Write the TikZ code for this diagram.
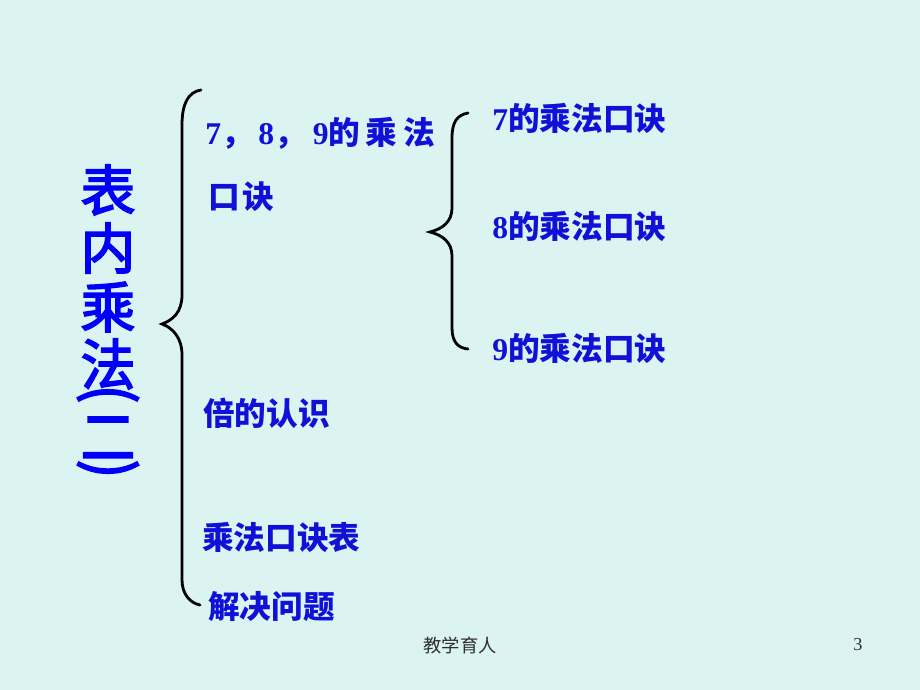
\documentclass[tikz,border=0pt]{standalone}
\usepackage{fontspec}
\setmainfont{Liberation Serif}
\newfontfamily\cjk{Noto Sans CJK SC}
\newfontfamily\cjktitle[FakeBold=3]{Noto Sans CJK SC}
\usetikzlibrary{positioning}

\definecolor{slidebg}{RGB}{220,244,241}
\definecolor{titleblue}{RGB}{0,0,250}
\definecolor{itemblue}{RGB}{16,16,215}
\definecolor{footgray}{RGB}{45,45,45}

\newcommand{\hz}[1]{{\cjk\bfseries #1}}

\tikzset{
  item/.style={anchor=west, inner sep=0pt, text=itemblue, font=\fontsize{22.5}{26}\selectfont\bfseries},
  titlechar/.style={inner sep=0pt, text=titleblue, font=\fontsize{39}{42}\selectfont\cjktitle},
  brace/.style={line width=2pt, line cap=round}
}

\begin{document}
\begin{tikzpicture}[x=0.025cm, y=-0.025cm]
  % Slide
  \fill[slidebg] (0,0) rectangle (920,690);

  % Title, set vertically
  \node[titlechar] (t1) at (108,190) {表};
  \node[titlechar] (t2) at (108,248) {内};
  \node[titlechar] (t3) at (108,307) {乘};
  \node[titlechar] (t4) at (108,364) {法};
  \node[titlechar] (t5) at (108,394) {\rotatebox{-90}{\scalebox{1}[1.1]{(}}};
  \node[titlechar, yscale=1.1] (t6) at (108,438) {二};
  \node[titlechar] (t7) at (108,469) {\rotatebox{-90}{\scalebox{1}[1.1]{)}}};

  % Big brace
  \coordinate (bigtop) at (201,90);
  \coordinate (bigtip) at (162,324);
  \coordinate (bigbot) at (200,605);
  \draw[brace] (bigtop) .. controls (188,92) and (182,104) .. (182,125)
    -- (182,295) .. controls (182,312) and (173,320) .. (bigtip)
    .. controls (173,328) and (182,338) .. (182,355)
    -- (182,580) .. controls (182,594) and (190,603) .. (bigbot);

  % First level
  \node[item] (tables) at (205,133) {7\hz{，}\kern4pt8\hz{，}\kern5pt9\hz{的}\kern4pt\hz{乘}\kern4pt\hz{法}};
  \node[item] (koujue) at (208,197) {\hz{口}\kern2pt\hz{诀}};
  \node[item] (times) at (203,413) {\hz{倍的认识}};
  \node[item] (chart) at (202,537) {\hz{乘法口诀表}};
  \node[item] (solve) at (208,607) {\hz{解决问题}};

  % Small brace
  \coordinate (smalltop) at (468,113);
  \coordinate (smalltip) at (430,232);
  \coordinate (smallbot) at (468,349);
  \draw[brace] (smalltop) .. controls (457,115) and (452,122) .. (452,138)
    -- (452,208) .. controls (452,222) and (442,229) .. (smalltip)
    .. controls (442,235) and (452,242) .. (452,256)
    -- (452,328) .. controls (452,342) and (458,348) .. (smallbot);

  % Second level
  \node[item] (seven) at (492,118) {7\hz{的乘法口诀}};
  \node[item] (eight) at (492,226) {8\hz{的乘法口诀}};
  \node[item] (nine) at (492,348) {9\hz{的乘法口诀}};

  % Footer
  \node[text=footgray, font=\fontsize{13}{15}\selectfont\cjk] (foot) at (460,645) {教学育人};
  \node[text=footgray, font=\fontsize{13}{15}\selectfont] (page) at (858,645) {3};
\end{tikzpicture}
\end{document}
